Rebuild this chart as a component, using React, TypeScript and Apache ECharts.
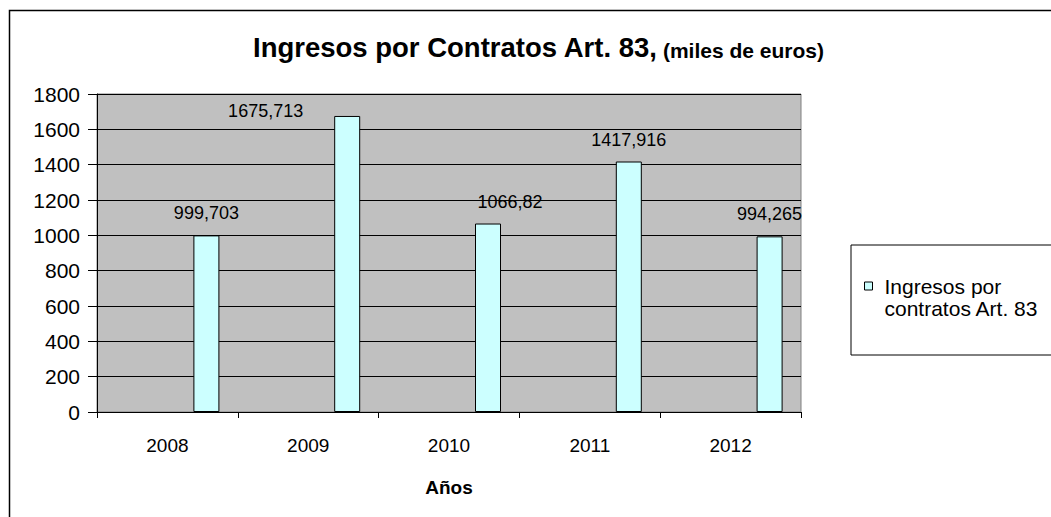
import React, { useEffect, useRef } from "react";
import * as echarts from "echarts";

const categories = ["2008", "2009", "2010", "2011", "2012"];
const values = [999.703, 1675.713, 1066.82, 1417.916, 994.265];
const seriesName = "Ingresos por contratos Art. 83";
const yMin = 0;
const yMax = 1800;
const yInterval = 200;

const FONT = "'Liberation Sans', Arial, sans-serif";

export default function App() {
  const ref = useRef<HTMLDivElement>(null);
  useEffect(() => {
    if (!ref.current) return;
    const chart = echarts.init(ref.current, null, { renderer: "svg" });
    const dummy = (n: string) => ({
      name: n,
      type: "bar" as const,
      data: categories.map(() => null),
      barWidth: 26,
      barGap: "0%",
      silent: true,
    });
    chart.setOption({
      animation: false,
      backgroundColor: "#ffffff",
      textStyle: { fontFamily: FONT, color: "#000" },
      title: {
        text: "{a|Ingresos por Contratos Art. 83,} {b|(miles de euros)}",
        left: 253,
        top: 33,
        padding: 0,
        textStyle: {
          rich: {
            a: { fontSize: 27.5, fontWeight: "bold", fontFamily: FONT, color: "#000", verticalAlign: "bottom" },
            b: { fontSize: 21, fontWeight: "bold", fontFamily: FONT, color: "#000", verticalAlign: "bottom" },
          },
        },
      },
      legend: {
        data: [seriesName],
        left: 851,
        top: 245,
        orient: "vertical",
        padding: [8, 40, 36, 13],
        backgroundColor: "#ffffff",
        borderColor: "#000",
        borderWidth: 1,
        itemWidth: 8,
        itemHeight: 8,
        icon: "rect",
        itemStyle: { color: "#ccffff", borderColor: "#000", borderWidth: 1 },
        formatter: () => "\nIngresos por\ncontratos Art. 83",
        textStyle: {
          fontSize: 21,
          lineHeight: 22,
          fontFamily: FONT,
          color: "#000",
          padding: [0, 0, 0, 7],
        },
      },
      grid: {
        left: 97,
        right: 250,
        top: 94,
        bottom: 105,
        show: true,
        backgroundColor: "#c0c0c0",
        borderColor: "#808080",
        borderWidth: 1,
      },
      xAxis: {
        type: "category",
        data: categories,
        name: "Años",
        nameLocation: "middle",
        nameGap: 66,
        nameTextStyle: { fontSize: 19, fontWeight: "bold", fontFamily: FONT, color: "#000" },
        axisLine: { lineStyle: { color: "#000", width: 1 } },
        axisTick: { show: true, length: 6, lineStyle: { color: "#000" } },
        axisLabel: { fontSize: 19, margin: 24, color: "#000", fontFamily: FONT },
        splitLine: { show: false },
      },
      yAxis: {
        type: "value",
        min: yMin,
        max: yMax,
        interval: yInterval,
        axisLine: { show: true, lineStyle: { color: "#000", width: 1 } },
        axisTick: { show: true, length: 9, lineStyle: { color: "#000" } },
        axisLabel: {
          fontSize: 21,
          margin: 17,
          color: "#000",
          fontFamily: FONT,
          formatter: (v: number) => String(v),
        },
        splitLine: { show: true, lineStyle: { color: "#000", width: 1 } },
      },
      series: [
        dummy("_s1"),
        dummy("_s2"),
        dummy("_s3"),
        {
          name: seriesName,
          type: "bar",
          barWidth: 26,
          barGap: "0%",
          data: values.map((v, i) => {
            if (i === 1)
              return {
                value: v,
                label: { position: [-31, -5], align: "right", verticalAlign: "middle" },
              };
            if (i === 2) return { value: v, label: { offset: [22, 0] } };
            return v;
          }),
          itemStyle: { color: "#ccffff", borderColor: "#000", borderWidth: 1 },
          label: {
            show: true,
            position: "top",
            distance: 13,
            fontSize: 18,
            fontFamily: FONT,
            color: "#000",
            formatter: (p: any) => String(p.value).replace(".", ","),
          },
        },
      ],
      graphic: [
        {
          type: "rect",
          z: -10,
          silent: true,
          shape: { x: 9.5, y: 10.5, width: 1100, height: 600 },
          style: { fill: "none", stroke: "#000", lineWidth: 1.5 },
        },
      ],
    });
    return () => chart.dispose();
  }, []);
  return (
    <div
      ref={ref}
      style={{ position: "fixed", left: 0, top: 0, width: 1051, height: 517 }}
    />
  );
}
